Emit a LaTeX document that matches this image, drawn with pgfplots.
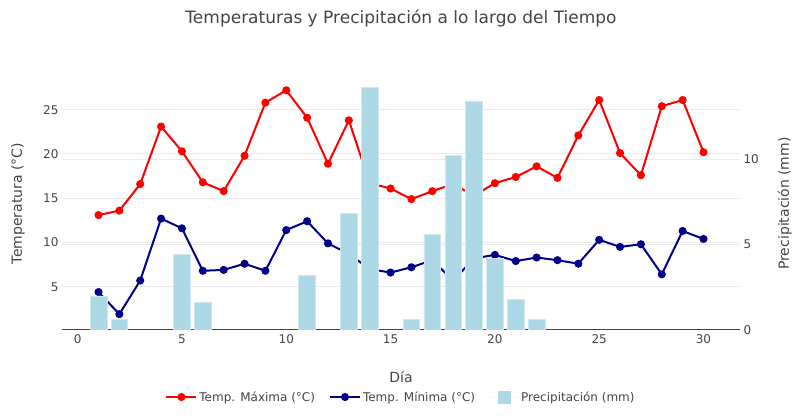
\documentclass[border=0pt]{standalone}
\usepackage{fontspec}
\setmainfont{DejaVu Sans}
\usepackage{pgfplots}
\usepackage{pgfplotstable}
\pgfplotsset{compat=1.18}
\definecolor{txt}{RGB}{68,68,68}
\definecolor{gridc}{RGB}{235,235,235}
\definecolor{tmaxc}{RGB}{255,0,0}
\definecolor{tminc}{RGB}{0,0,139}
\definecolor{precc}{RGB}{173,216,230}

\pgfplotstableread{
day tmax tmin
1 13.1 4.4
2 13.6 1.9
3 16.6 5.7
4 23.1 12.7
5 20.3 11.6
6 16.8 6.8
7 15.8 6.9
8 19.8 7.6
9 25.8 6.8
10 27.2 11.4
11 24.1 12.4
12 18.9 9.9
13 23.8 8.7
14 16.7 7.0
15 16.1 6.6
16 14.9 7.2
17 15.8 8.0
18 16.6 5.7
19 15.3 8.2
20 16.7 8.6
21 17.4 7.9
22 18.6 8.3
23 17.3 8.0
24 22.1 7.6
25 26.1 10.3
26 20.1 9.5
27 17.6 9.8
28 25.4 6.4
29 26.1 11.3
30 20.2 10.4
}\temps

\pgfplotstableread{
day p
1 2.0
2 0.6
5 4.4
6 1.6
11 3.2
13 6.8
14 14.2
16 0.6
17 5.6
18 10.2
19 13.4
20 4.2
21 1.8
22 0.6
}\precip

\begin{document}
\begin{tikzpicture}
\node[text=txt, font=\fontsize{17bp}{20bp}\selectfont] at (401bp,398bp) {Temperaturas y Precipitación a lo largo del Tiempo};
\pgfplotsset{
 common/.style={
  set layers=standard,
  scale only axis, width=678bp, height=253bp,
  at={(62bp,86bp)}, anchor=south west,
  xmin=-0.75, xmax=31.75,
  tick style={draw=none},
  tick label style={font=\fontsize{12bp}{14bp}\selectfont, text=txt},
  label style={font=\fontsize{14bp}{16bp}\selectfont, text=txt},
  /pgf/number format/assume math mode=true,
  grid style={gridc, line width=1bp},
  ymajorgrids,
  axis line style={draw=none},
 }
}
\begin{axis}[common,
  ymin=0.11, ymax=28.7,
  xtick={0,5,...,30}, ytick={5,10,...,25},
  xticklabel style={anchor=north, yshift=-1bp},
  xlabel={Día}, ylabel={Temperatura (°C)},
  xlabel style={at={(axis description cs:0.5,-0.186)}, anchor=center},
  ylabel style={at={(axis description cs:-0.065,0.5)}, anchor=center},
  after end axis/.code={\draw[txt, line width=1bp] (rel axis cs:0,0) -- (rel axis cs:1,0);},
]
\addplot[tmaxc, line width=2bp, mark=*, mark size=3bp] table[x=day,y=tmax] {\temps};
\addplot[tminc, line width=2bp, mark=*, mark size=3bp] table[x=day,y=tmin] {\temps};
\end{axis}
\begin{axis}[common,
  xtick=\empty,
  ymin=0, ymax=14.8,
  ytick={0,5,10},
  yticklabel pos=right,
  ylabel={Precipitación (mm)},
  ylabel style={at={(axis description cs:1.066,0.5)}, anchor=center, rotate=0},
  legend columns=3,
  legend style={at={(axis description cs:0.5,-0.265)}, anchor=center, draw=none, fill=none,
    font=\fontsize{12bp}{14bp}\selectfont, text=txt,
    /tikz/every even column/.append style={column sep=12bp}},
]
\addlegendimage{tmaxc, line width=2bp, mark=*, mark size=3bp, legend image code/.code={\draw[mark repeat=2,mark phase=2] plot coordinates {(0bp,0bp) (15bp,0bp) (30bp,0bp)};}}
\addlegendentry{Temp. Máxima (°C)}
\addlegendimage{tminc, line width=2bp, mark=*, mark size=3bp, legend image code/.code={\draw[mark repeat=2,mark phase=2] plot coordinates {(0bp,0bp) (15bp,0bp) (30bp,0bp)};}}
\addlegendentry{Temp. Mínima (°C)}
\addplot[ybar, bar width=0.8, fill=precc, draw=precc!60!white, line width=0.6bp,
  legend image code/.code={\fill[precc] (9bp,-6bp) rectangle (21bp,6bp); \path[draw=none] (0bp,0bp) -- (30bp,0bp);}]
  table[x=day,y=p] {\precip};
\addlegendentry{Precipitación (mm)}
\end{axis}
\pgfresetboundingbox
\path[use as bounding box] (0bp,0bp) rectangle (802bp,416bp);
\end{tikzpicture}
\end{document}
